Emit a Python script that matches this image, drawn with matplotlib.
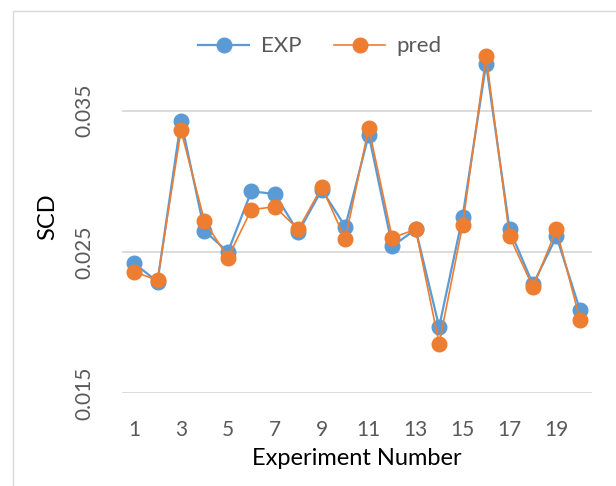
import matplotlib
matplotlib.use("Agg")
import matplotlib.pyplot as plt
from matplotlib.patches import Rectangle

experiments = list(range(1, 21))
exp_values = [0.0242, 0.0229, 0.0343, 0.0265, 0.0250, 0.0293, 0.0291, 0.0264, 0.0294, 0.0268,
              0.0333, 0.0254, 0.0266, 0.0197, 0.0275, 0.0383, 0.0266, 0.0227, 0.0261, 0.0209]
pred_values = [0.0236, 0.0230, 0.0336, 0.0272, 0.0246, 0.0280, 0.0282, 0.0266, 0.0296, 0.0259,
               0.0338, 0.0260, 0.0266, 0.0185, 0.0269, 0.0389, 0.0261, 0.0225, 0.0266, 0.0202]
x_ticks = [1, 3, 5, 7, 9, 11, 13, 15, 17, 19]
y_ticks = [0.015, 0.025, 0.035]

plt.rcParams['font.family'] = ['Lato', 'DejaVu Sans']

fig = plt.figure(figsize=(6.16, 4.86), dpi=100)
fig.patches.append(Rectangle((13/616, -0.1), 1.2, 1 - 11/486 + 0.1, transform=fig.transFigure,
                             fill=False, edgecolor='#d9d9d9', linewidth=1.0))
ax = fig.add_axes([122.3/616, 1 - 393.3/486, 469.4/616, (393.3 - 40)/486])

blue = '#5B9BD5'
orange = '#ED7D31'
ax.plot(experiments, exp_values, color=blue, lw=1.6, marker='o', ms=10.5, label='EXP', zorder=3)
ax.plot(experiments, pred_values, color=orange, lw=1.2, marker='o', ms=10.5, label='pred', zorder=4)

ax.set_xlim(0.5, 20.5)
ax.set_ylim(0.015, 0.040)
ax.set_xticks(x_ticks)
ax.set_xticklabels([str(t) for t in x_ticks])
ax.set_yticks(y_ticks)
ax.set_yticklabels(['0.015', '0.025', '0.035'], rotation=90, va='center')
ax.grid(axis='y', color='#d9d9d9', lw=1.3)
ax.set_axisbelow(True)
for s in ax.spines.values():
    s.set_visible(False)
ax.tick_params(axis='both', length=0, labelsize=15, colors='#595959')
ax.tick_params(axis='x', pad=19)
ax.tick_params(axis='y', pad=20)

ax.set_xlabel('Experiment Number', fontsize=17, color='black', labelpad=6)
ax.set_ylabel('SCD', fontsize=17, color='black', labelpad=12)

leg = ax.legend(loc='center', bbox_to_anchor=(320/616, 1 - 46.5/486), bbox_transform=fig.transFigure,
                ncol=2, frameon=False, fontsize=16, handlelength=2.3, columnspacing=1.5,
                handletextpad=0.5)
for t in leg.get_texts():
    t.set_color('#595959')

fig.savefig('out.png', dpi=100)
